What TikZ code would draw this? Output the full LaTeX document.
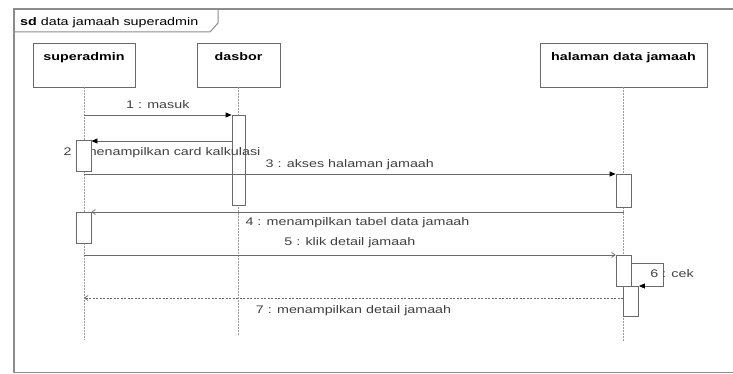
\documentclass[tikz,border=0pt]{standalone}
\usepackage{fontspec}
\setmainfont{Liberation Sans}
\newfontfamily\diagfont[FakeStretch=1.3]{Liberation Sans}
\usetikzlibrary{arrows.meta, positioning, calc}
\definecolor{LineGray}{HTML}{6A6A6A}
\definecolor{FrameGray}{HTML}{8C8C8C}
\definecolor{LifeGray}{HTML}{9C9C9C}
\definecolor{TextGray}{HTML}{404040}
\pgfdeclarelayer{front}
\pgfsetlayers{main,front}

\begin{document}
\begin{tikzpicture}[x=1pt, y=-1pt,
    every node/.style={font=\diagfont\fontsize{11}{13}\selectfont, text=TextGray},
    head/.style={draw=LineGray, line width=0.8pt, fill=white, minimum height=44pt,
        inner xsep=2pt, inner ysep=0pt, text height=18pt, text depth=26pt,
        font=\diagfont\fontsize{11}{13}\selectfont\bfseries, text=black},
    actbox/.style={draw=LineGray, line width=0.8pt, fill=white, minimum width=15pt,
        inner sep=0pt, anchor=north},
    lifeline/.style={LifeGray, line width=0.7pt, dash pattern=on 1.5pt off 1.5pt},
    msg/.style={LineGray, line width=0.8pt, -{Triangle[length=6pt, width=5pt, color=black]}},
    reply/.style={LineGray, line width=0.7pt, -{Straight Barb[length=3.5pt, width=5pt]}},
    lbl/.style={inner sep=1pt},
]
\useasboundingbox (0,0) rectangle (733,374);

% === Frame ===
\draw[FrameGray, line width=1.2pt] (733,9) -- (14,9) -- (14,372.5) -- (733,372.5);
\draw[FrameGray, line width=1pt] (14,32) -- (210,32) -- (218,23) -- (218,9);
\node[anchor=base west, text=black, inner sep=0pt] (title) at (20,25.5)
    {\textbf{sd} data jamaah superadmin};

% === Lifeline heads ===
\node[head, minimum width=102pt] (superadmin) at (84,65) {superadmin};
\node[head, minimum width=83pt] (dasbor) at (238.5,65) {dasbor};
\node[head, minimum width=167pt] (halaman) at (623.5,65) {halaman data jamaah};

\draw[lifeline] (superadmin.south) -- ++(0,253);
\draw[lifeline] (dasbor.south) -- ++(0,248);
\draw[lifeline] (halaman.south) -- ++(0,254);

% === Activations ===
\node[actbox, minimum width=13pt, minimum height=90pt] (dbAct) at (238.5,115) {};
\begin{pgfonlayer}{front}
\node[actbox, minimum height=31pt] (saAct1) at (83.5,140) {};
\end{pgfonlayer}
\node[actbox, minimum height=33pt] (hAct1) at (623.5,174) {};
\node[actbox, minimum height=31pt] (saAct2) at (83.5,212) {};
\node[actbox, minimum height=31pt] (hAct2) at (623.5,255) {};
\node[actbox, minimum height=30pt] (hAct3) at (631,286) {};

% === Messages ===
\draw[msg] (superadmin |- dbAct.north) -- (dbAct.north west)
    node[lbl, midway, above=5pt] {1 : masuk};

\draw[msg] ([yshift=-26pt]dbAct.north west) -- ([yshift=-1pt]saAct1.north east);
\node[lbl] (m2) at (162,153) {2 : menampilkan card kalkulasi};

\draw[msg] (superadmin |- hAct1.north) -- (hAct1.north west)
    node[lbl, midway, above=3pt] {3 : akses halaman jamaah};

\draw[reply] (halaman |- saAct2.north) -- (saAct2.north east)
    node[lbl, midway, below=4pt] {4 : menampilkan tabel data jamaah};

\draw[reply] (superadmin |- hAct2.north) -- (hAct2.north west)
    node[lbl, midway, above=6pt] {5 : klik detail jamaah};

% self call
\draw[msg] ([yshift=-8pt]hAct2.north east) -- ++(32,0) -- ++(0,23) -- (hAct3.north east);
\node[lbl] (m6) at (672,274) {6 : cek};

\coordinate (r7) at ([yshift=-12pt]hAct3.north west);
\draw[reply, dash pattern=on 2pt off 1.5pt] (r7) -- (superadmin |- r7)
    node[lbl, midway, below=6pt] {7 : menampilkan detail jamaah};

\end{tikzpicture}
\end{document}
